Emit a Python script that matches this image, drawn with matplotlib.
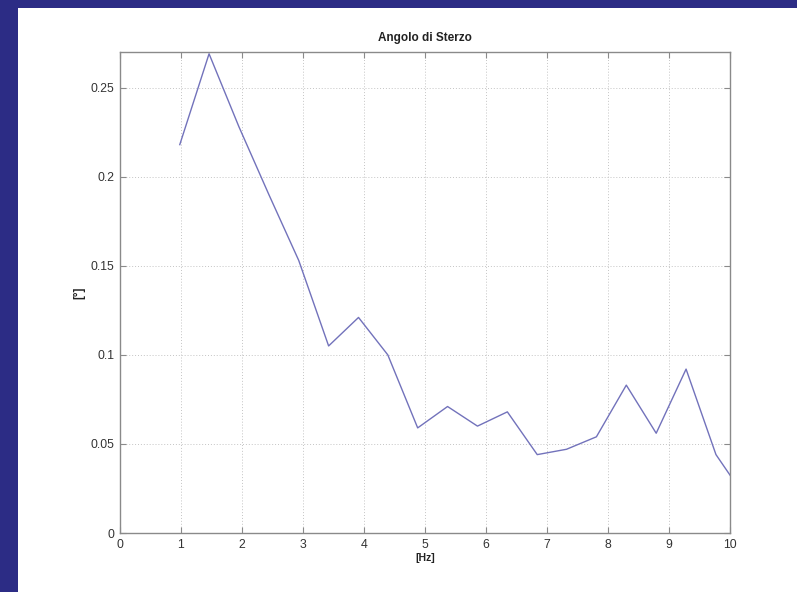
import matplotlib

matplotlib.use("Agg")
import matplotlib.pyplot as plt
from matplotlib.patches import Rectangle

BLUE_BG = "#2c2c85"
LINE = "#7272bb"
GRID = "#c4c4c4"
AXIS = "#8a8a8a"
TEXT = "#333333"

# spectrum samples: frequency [Hz] and steering angle amplitude [deg]
freq_hz = [0.98, 1.46, 1.95, 2.44, 2.93, 3.42, 3.91, 4.39, 4.88, 5.37,
           5.86, 6.35, 6.84, 7.32, 7.81, 8.30, 8.79, 9.28, 9.77, 10.25]
angle = [0.218, 0.269, 0.228, 0.190, 0.153, 0.105, 0.121, 0.100, 0.059, 0.071,
         0.060, 0.068, 0.044, 0.047, 0.054, 0.083, 0.056, 0.092, 0.044, 0.020]

x_ticks = [0, 1, 2, 3, 4, 5, 6, 7, 8, 9, 10]
y_ticks = [0, 0.05, 0.1, 0.15, 0.2, 0.25]
y_tick_labels = ["0", "0.05", "0.1", "0.15", "0.2", "0.25"]

plt.rcParams["font.family"] = ["Liberation Sans", "DejaVu Sans"]

fig = plt.figure(figsize=(7.97, 5.92), dpi=100)
fig.patch.set_facecolor("white")
# blue slide border (left and top strips)
fig.patches.append(Rectangle((0, 0), 18 / 797, 1, transform=fig.transFigure,
                             facecolor=BLUE_BG, edgecolor="none"))
fig.patches.append(Rectangle((0, 1 - 8 / 592), 1, 8 / 592,
                             transform=fig.transFigure,
                             facecolor=BLUE_BG, edgecolor="none"))

ax = fig.add_axes([120 / 797, 59 / 592, 610 / 797, 481 / 592])
ax.set_zorder(2)
ax.plot(freq_hz, angle, color=LINE, linewidth=1.0)

ax.set_xlim(0, 10)
ax.set_ylim(0, 0.27)
ax.set_xticks(x_ticks)
ax.set_yticks(y_ticks)
ax.set_yticklabels(y_tick_labels)
ax.grid(True, linestyle=(0, (1, 2)), color=GRID, linewidth=0.7)
ax.tick_params(direction="in", top=True, right=True, length=4,
               color=AXIS, labelsize=8.8, labelcolor=TEXT, pad=4)
for s in ax.spines.values():
    s.set_color(AXIS)
    s.set_linewidth(1.0)

ax.set_title("Angolo di Sterzo", fontsize=8.5, fontweight="bold",
             color="#222222", pad=8)
ax.set_xlabel("[Hz]", fontsize=7.5, fontweight="bold", color="#222222",
              labelpad=2)
ax.set_ylabel("[°]", fontsize=8.5, fontweight="bold", color="#222222",
              labelpad=4)

fig.savefig("out.png", dpi=100, facecolor=fig.get_facecolor())
